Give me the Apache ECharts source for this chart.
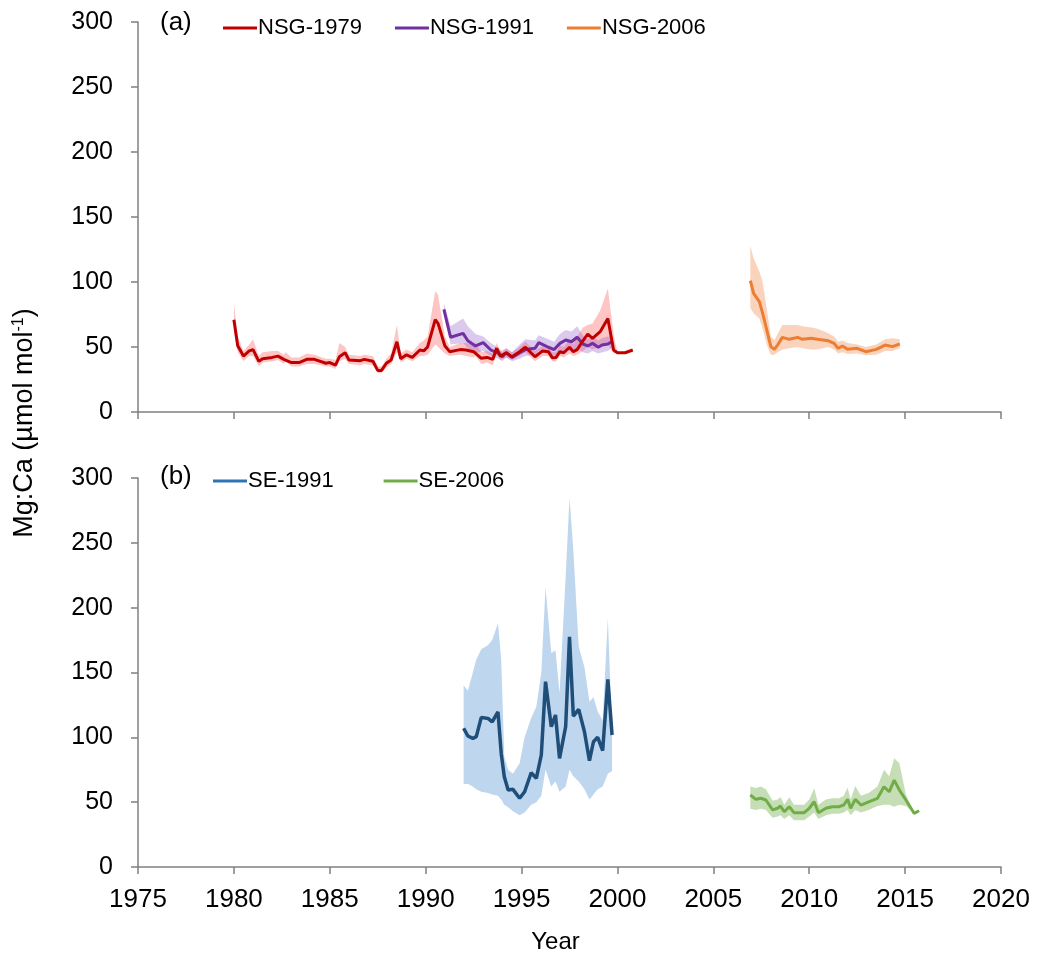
<!DOCTYPE html>
<html>
<head>
<meta charset="utf-8">
<script src="https://cdn.jsdelivr.net/npm/echarts@6/dist/echarts.min.js"></script>
<style>
  html, body { margin: 0; padding: 0; background: #fff; }
  #chart { width: 1037px; height: 958px; }
</style>
</head>
<body>
<div id="chart"></div>
<script>
// (a) NSG-1979
const nsg1979Year = [1980.0,1980.2,1980.5,1980.8,1981.0,1981.3,1981.5,1982.0,1982.3,1982.6,1982.7,1983.0,1983.4,1983.8,1984.2,1984.8,1985.0,1985.3,1985.5,1985.8,1986.0,1986.6,1986.8,1987.25,1987.5,1987.7,1987.95,1988.2,1988.5,1988.7,1989.0,1989.3,1989.7,1989.9,1990.1,1990.5,1990.65,1991.0,1991.25,1991.8,1992.1,1992.5,1992.6,1992.9,1993.2,1993.5,1993.7,1993.9,1994.2,1994.5,1994.9,1995.2,1995.7,1996.1,1996.4,1996.6,1996.8,1997.0,1997.2,1997.5,1997.7,1997.9,1998.2,1998.45,1998.7,1999.1,1999.5,1999.8,2000.0,2000.4,2000.8];
const nsg1979Mean = [71,51,43,47,48,39,41,42,43,40.5,42,38,38,40.5,40.5,37.5,38,36,42.5,45.6,40,39.5,40.5,39,32,32,37.5,40,54,41,44,42,47.7,47,50,71,68,51,46.4,48,47.7,46.4,47.7,41.3,42,40.5,49,43,45.6,42.5,46.4,49.8,42.5,47,46.4,41.8,42,46.4,45.6,49.8,46.4,48,54.8,60,56.7,61.8,72,47.7,45.6,45.6,47.7];
const nsg1979Lo = [62,46,39,43,43,35,38,39,40,37,39,35,35,37,37,35,35,33,39,41,37,36,37,36,30,30,34,37,46,38,41,39,43,43,44,52,50,45,43,44,43,42,43,37,38,36,44,40,42,40,43,46,39,43,43,39,39,43,42,45,43,44,47,50,48,50,52,45,45.6,45.6,47.7];
const nsg1979Hi = [84,58,47,52,56,43,46,47,47,44,46,42,42,45,44,41,41,40,53,50,44,43,44,43,35,35,41,45,67,45,48,46,53,55,58,93,90,58,50,53,53,52,53,46,47,45,53,47,49,46,50,54,47,51,50,46,46,51,50,56,52,58,65,67,68,78,95,60,45.6,45.6,47.7];

// (a) NSG-1991
const nsg1991Year = [1990.95,1991.3,1991.95,1992.2,1992.6,1993.0,1993.4,1993.8,1994.0,1994.2,1994.5,1994.9,1995.2,1995.7,1995.9,1996.4,1996.7,1997.0,1997.3,1997.6,1997.9,1998.2,1998.45,1998.7,1999.0,1999.2,1999.5,1999.7];
const nsg1991Mean = [79,57.5,60.5,54.8,50.8,53.3,47.7,45,42.5,45.6,42,45.6,48,49,53.3,49.8,48,52.8,55.4,54,57.5,52.3,50.8,52.8,49.8,51.5,52.3,54];
const nsg1991Lo = [74,52,53,49,45,47,43,41,39,42,39,41,43,44,47,45,43,46,47,47,49,46,45,47,45,46,47,49];
const nsg1991Hi = [84,66,72,66,60,58,53,49,46,49,46,52,56,55,59,56,54,60,63,62,66,59,56,58,55,57,58,58];

// (a) NSG-2006
const nsg2006Year = [2006.93,2007.1,2007.4,2007.57,2007.83,2008.0,2008.18,2008.35,2008.6,2008.96,2009.4,2009.65,2010.1,2010.43,2011.0,2011.3,2011.5,2011.73,2012.0,2012.5,2012.95,2013.5,2013.96,2014.34,2014.72];
const nsg2006Mean = [101,91.3,84.9,76,60.5,50.3,48.2,51.5,57.4,55.9,57.4,55.9,56.7,55.9,54.8,52.8,49,50.8,48.2,49,46.4,48.2,51.5,50.3,52.3];
const nsg2006Lo = [80,76,72,64,50,44,44,46,48,49,50,49,48,48,50,48,45,46,44.6,45,43.6,44,47,47,49];
const nsg2006Hi = [128,118,108,100,75,58,55,60,67,67,67,66,65,64,60.5,58,54,55,53,52,50,52,56,56.7,56];

// (b) SE-1991
const se1991Year = [1991.98,1992.2,1992.46,1992.64,1992.9,1993.25,1993.47,1993.77,1993.94,1994.1,1994.3,1994.55,1994.9,1995.16,1995.5,1995.77,1996.03,1996.25,1996.55,1996.77,1996.98,1997.3,1997.5,1997.7,1997.98,1998.28,1998.54,1998.75,1998.97,1999.23,1999.5,1999.72];
const se1991Mean = [107,101,99.2,100.5,115.4,114.6,112,119.7,87.6,69.6,59.4,59.9,53,58,72.7,68.4,86.4,142.9,108.2,117.2,83.8,108.2,177.6,116.4,121.6,104.3,82,96.6,100,89.7,144.7,101.8];
const se1991Lo = [64,64,62,60,58,57,56,55,52,48,46,43,40,42,48,50,55,75,62,66,58,62,75,70,66,60,52,56,60,62,72,74];
const se1991Hi = [140,136,150,160,168,171,175,188,160,85,75,72,80,100,115,123.6,150,216,165,167,134,224,285,244,170,154,127.5,131,120,113,192,103];

// (b) SE-2006
const se2006Year = [2006.93,2007.22,2007.48,2007.74,2008.09,2008.35,2008.5,2008.7,2008.96,2009.2,2009.74,2010.0,2010.26,2010.48,2010.87,2011.2,2011.56,2011.8,2012.0,2012.16,2012.4,2012.7,2013.1,2013.56,2013.9,2014.17,2014.43,2014.7,2015.04,2015.47,2015.73];
const se2006Mean = [55.5,52.2,53,51.7,44,45.3,47,42.6,46.5,41.9,41.9,45.3,50.3,41.9,45.3,46.5,46.5,47.8,52.2,45.3,52.2,47.8,50.3,53,61.9,58,67,59.4,51.7,41.4,43.4];
const se2006Lo = [45,44,45,44,38,39,40,37,40,36,36,39,42,37,40,41,41,42,44,40,44,42,44,47,48,48,46.5,48,47,41.4,43.4];
const se2006Hi = [62,61,62,60,51,52,54,48,53.7,48,48,52,60.7,48,52,53,53,55,61.4,52,62.5,55,57,62,75,70,83.8,80,56,41.4,43.4];

const font = "'Liberation Sans', Arial, sans-serif";
const axisColor = '#808080';

// shaded range drawn as one polygon through the axis scales
function bandSeries(panel, years, lo, hi, fill) {
  return {
    type: 'custom',
    xAxisIndex: panel,
    yAxisIndex: panel,
    silent: true,
    z: 1,
    data: years.map((y, i) => [y, lo[i], hi[i]]),
    encode: { x: 0, y: [1, 2] },
    renderItem: function (params, api) {
      if (params.dataIndex !== 0) return;
      const top = years.map((y, i) => api.coord([y, hi[i]]));
      const bottom = years.map((y, i) => api.coord([y, lo[i]])).reverse();
      return {
        type: 'polygon',
        shape: { points: top.concat(bottom) },
        style: { fill: fill }
      };
    }
  };
}

function lineSeries(panel, name, years, mean, color, width, z) {
  return {
    type: 'line',
    name: name,
    xAxisIndex: panel,
    yAxisIndex: panel,
    data: years.map((y, i) => [y, mean[i]]),
    showSymbol: false,
    symbol: 'none',
    lineStyle: { color: color, width: width },
    itemStyle: { color: color },
    z: z
  };
}

function xAxis(panel, showLabels) {
  return {
    type: 'value',
    gridIndex: panel,
    min: 1975,
    max: 2020,
    interval: 5,
    axisLine: { show: true, onZero: false, lineStyle: { color: axisColor, width: 1.5 } },
    axisTick: { show: true, length: 7, lineStyle: { color: axisColor, width: 1.5 } },
    axisLabel: {
      show: showLabels,
      fontFamily: font,
      fontSize: 26,
      color: '#000',
      margin: 20,
      formatter: (v) => String(v)
    },
    splitLine: { show: false },
    name: showLabels ? 'Year' : '',
    nameLocation: 'middle',
    nameGap: 63,
    nameTextStyle: { fontFamily: font, fontSize: 24, color: '#000', padding: [0, 28, 0, 0] }
  };
}

function yAxis(panel) {
  return {
    type: 'value',
    gridIndex: panel,
    min: 0,
    max: 300,
    interval: 50,
    axisLine: { show: true, lineStyle: { color: axisColor, width: 1.5 } },
    axisTick: { show: true, length: 7, lineStyle: { color: axisColor, width: 1.5 } },
    axisLabel: { fontFamily: font, fontSize: 25, color: '#000', margin: 25 },
    splitLine: { show: false }
  };
}

const chart = echarts.init(document.getElementById('chart'));

chart.setOption({
  animation: false,
  backgroundColor: '#fff',
  grid: [
    { left: 138, right: 36, top: 22, height: 390 },
    { left: 138, right: 36, top: 478, height: 389 }
  ],
  xAxis: [xAxis(0, false), xAxis(1, true)],
  yAxis: [yAxis(0), yAxis(1)],
  legend: [
    {
      left: 218, top: 12,
      itemWidth: 34, itemHeight: 3, itemGap: 33,
      icon: 'rect',
      textStyle: { fontFamily: font, fontSize: 22, color: '#000', padding: [0, 0, 0, -4] },
      data: ['NSG-1979', 'NSG-1991', 'NSG-2006']
    },
    {
      left: 208, top: 465,
      itemWidth: 34, itemHeight: 3, itemGap: 50,
      icon: 'rect',
      textStyle: { fontFamily: font, fontSize: 22, color: '#000', padding: [0, 0, 0, -4] },
      data: [
        { name: 'SE-1991', itemStyle: { color: '#2E75B6' } },
        { name: 'SE-2006', itemStyle: { color: '#70AD47' } }
      ]
    }
  ],
  graphic: [
    { type: 'text', left: 160, top: 10, style: { text: '(a)', font: '26px ' + font, fill: '#000' } },
    { type: 'text', left: 160, top: 464, style: { text: '(b)', font: '26px ' + font, fill: '#000' } },
    {
      type: 'text',
      x: 25, y: 423,
      rotation: Math.PI / 2,
      style: {
        text: '{a|Mg:Ca (µmol mol}{s|-1}{a|)}',
        align: 'center',
        verticalAlign: 'middle',
        rich: {
          a: { fontFamily: font, fontSize: 27, color: '#000' },
          s: { fontFamily: font, fontSize: 16, color: '#000', verticalAlign: 'top', padding: [0, 0, 12, 0] }
        }
      }
    }
  ],
  series: [
    bandSeries(0, nsg1979Year, nsg1979Lo, nsg1979Hi, 'rgba(255, 90, 90, 0.35)'),
    bandSeries(0, nsg1991Year, nsg1991Lo, nsg1991Hi, 'rgba(140, 80, 200, 0.3)'),
    bandSeries(0, nsg2006Year, nsg2006Lo, nsg2006Hi, 'rgba(240, 140, 80, 0.38)'),
    lineSeries(0, 'NSG-1991', nsg1991Year, nsg1991Mean, '#7030A0', 3, 3),
    lineSeries(0, 'NSG-1979', nsg1979Year, nsg1979Mean, '#C00000', 3, 4),
    lineSeries(0, 'NSG-2006', nsg2006Year, nsg2006Mean, '#ED7D31', 3, 4),
    bandSeries(1, se1991Year, se1991Lo, se1991Hi, 'rgba(120, 170, 220, 0.48)'),
    bandSeries(1, se2006Year, se2006Lo, se2006Hi, 'rgba(112, 173, 71, 0.4)'),
    lineSeries(1, 'SE-1991', se1991Year, se1991Mean, '#1F4E79', 3.5, 4),
    lineSeries(1, 'SE-2006', se2006Year, se2006Mean, '#70AD47', 3, 4)
  ]
});
</script>
</body>
</html>
